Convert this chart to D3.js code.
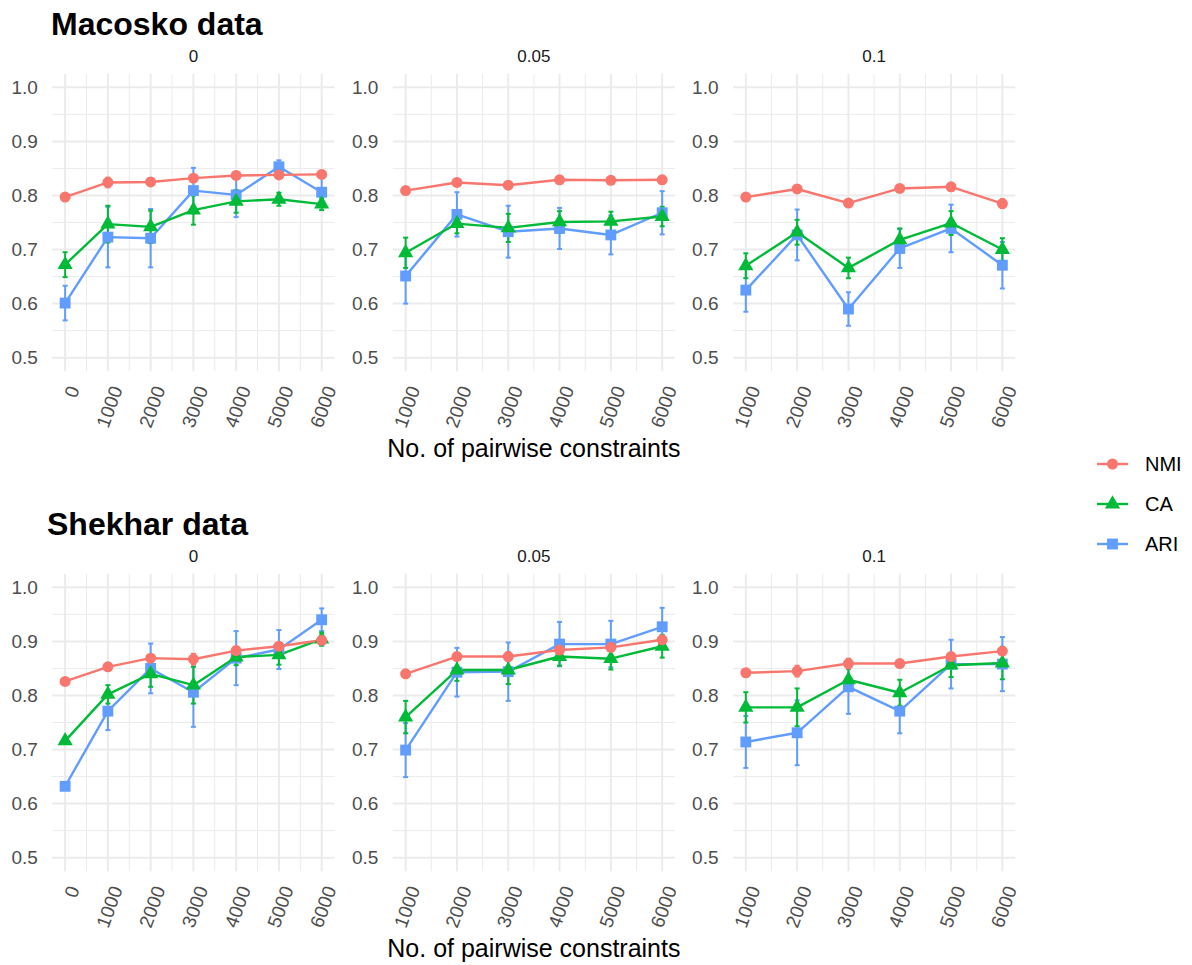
<!DOCTYPE html>
<html>
<head>
<meta charset="utf-8">
<script src="https://cdn.jsdelivr.net/npm/d3@7"></script>
<style>
  body { margin: 0; background: #ffffff; }
  svg { display: block; font-family: "Liberation Sans", Arial, Helvetica, sans-serif; }
</style>
</head>
<body>
<svg id="chart" width="1192" height="965"></svg>
<script>
// ---- data -------------------------------------------------------------
const datasets = ["Macosko data", "Shekhar data"];
const noiseLevels = ["0", "0.05", "0.1"];
const metrics = ["NMI", "CA", "ARI"];
const metricColors = ["#F8766D", "#00BA38", "#619CFF"];

const constraintsClean = [0, 1000, 2000, 3000, 4000, 5000, 6000];
const constraintsNoisy = [1000, 2000, 3000, 4000, 5000, 6000];
const yTicks = [0.5, 0.6, 0.7, 0.8, 0.9, 1.0];
const yTickLabels = ["0.5", "0.6", "0.7", "0.8", "0.9", "1.0"];

// mean score per noise level (rows: 0, 0.05, 0.1)
const macoskoNMI = [
  [0.797, 0.824, 0.825, 0.832, 0.837, 0.838, 0.839],
  [0.809, 0.824, 0.819, 0.829, 0.828, 0.829],
  [0.797, 0.812, 0.786, 0.813, 0.816, 0.785]
];
const macoskoCA = [
  [0.672, 0.747, 0.742, 0.773, 0.789, 0.793, 0.784],
  [0.694, 0.748, 0.740, 0.751, 0.752, 0.761],
  [0.670, 0.732, 0.666, 0.718, 0.749, 0.700]
];
const macoskoARI = [
  [0.601, 0.723, 0.721, 0.809, 0.801, 0.853, 0.806],
  [0.651, 0.765, 0.733, 0.739, 0.727, 0.768],
  [0.625, 0.727, 0.590, 0.702, 0.739, 0.671]
];
const shekharNMI = [
  [0.826, 0.853, 0.869, 0.867, 0.883, 0.891, 0.902],
  [0.840, 0.872, 0.872, 0.884, 0.889, 0.903],
  [0.842, 0.845, 0.859, 0.859, 0.872, 0.882]
];
const shekharCA = [
  [0.716, 0.802, 0.840, 0.819, 0.871, 0.875, 0.904],
  [0.760, 0.847, 0.847, 0.872, 0.868, 0.891],
  [0.778, 0.778, 0.829, 0.805, 0.856, 0.860]
];
const shekharARI = [
  [0.632, 0.771, 0.850, 0.806, 0.869, 0.885, 0.940],
  [0.699, 0.843, 0.844, 0.895, 0.895, 0.927],
  [0.714, 0.731, 0.816, 0.771, 0.858, 0.858]
];

// standard deviation per noise level
const macoskoNMIsd = [
  [0.003, 0.009, 0.007, 0.005, 0.003, 0.003, 0.003],
  [0.005, 0.004, 0.006, 0.004, 0.003, 0.003],
  [0.004, 0.006, 0.004, 0.004, 0.007, 0.008]
];
const macoskoCAsd = [
  [0.023, 0.034, 0.030, 0.027, 0.021, 0.012, 0.011],
  [0.028, 0.018, 0.026, 0.020, 0.018, 0.018],
  [0.023, 0.023, 0.019, 0.021, 0.022, 0.021]
];
const macoskoARIsd = [
  [0.032, 0.056, 0.054, 0.042, 0.041, 0.012, 0.027],
  [0.051, 0.041, 0.048, 0.038, 0.036, 0.040],
  [0.040, 0.047, 0.031, 0.036, 0.044, 0.043]
];
const shekharNMIsd = [
  [0.002, 0.004, 0.006, 0.010, 0.007, 0.005, 0.003],
  [0.006, 0.005, 0.008, 0.005, 0.005, 0.005],
  [0.007, 0.010, 0.009, 0.004, 0.006, 0.006]
];
const shekharCAsd = [
  [0.002, 0.017, 0.024, 0.034, 0.015, 0.018, 0.012],
  [0.030, 0.020, 0.026, 0.017, 0.020, 0.021],
  [0.028, 0.035, 0.020, 0.024, 0.022, 0.030]
];
const shekharARIsd = [
  [0.003, 0.035, 0.046, 0.064, 0.050, 0.036, 0.021],
  [0.050, 0.045, 0.054, 0.041, 0.043, 0.035],
  [0.048, 0.060, 0.050, 0.041, 0.045, 0.050]
];

const means = [[macoskoNMI, macoskoCA, macoskoARI], [shekharNMI, shekharCA, shekharARI]];
const sds = [[macoskoNMIsd, macoskoCAsd, macoskoARIsd], [shekharNMIsd, shekharCAsd, shekharARIsd]];

// ---- layout -----------------------------------------------------------
const rowHeight = 500;
const panelLefts = [52.3, 392.8, 733.0];
const panelWidth = 282.2;
const panelTop = 73.8, panelBottom = 371.2;
const titleX = [51, 47];

const svg = d3.select("#chart");
const symbolTypes = [d3.symbolCircle, d3.symbolTriangle, d3.symbolSquare];
const symbolSizes = [95, 100, 118];
const drawOrder = [2, 1, 0]; // ARI below CA below NMI

function midpoints(arr) {
  const out = [];
  for (let i = 0; i < arr.length - 1; i++) out.push((arr[i] + arr[i + 1]) / 2);
  return out;
}

datasets.forEach((name, r) => {
  const oy = r * rowHeight;
  const g = svg.append("g");

  g.append("text")
    .attr("x", titleX[r]).attr("y", 34.5 + oy)
    .attr("font-size", 32).attr("font-weight", "bold").attr("fill", "#000")
    .text(name);

  const y = d3.scaleLinear().domain([0.475, 1.025]).range([panelBottom + oy, panelTop + oy]);

  noiseLevels.forEach((lvl, p) => {
    const xs = p === 0 ? constraintsClean : constraintsNoisy;
    const span = xs[xs.length - 1] - xs[0];
    const x = d3.scaleLinear()
      .domain([xs[0] - span * 0.05, xs[xs.length - 1] + span * 0.05])
      .range([panelLefts[p], panelLefts[p] + panelWidth]);
    const pg = g.append("g");
    const x0 = panelLefts[p], x1 = panelLefts[p] + panelWidth;

    // grid: minor then major
    pg.selectAll(".hminor").data(midpoints(yTicks)).join("line")
      .attr("x1", x0).attr("x2", x1).attr("y1", d => y(d)).attr("y2", d => y(d))
      .attr("stroke", "#EBEBEB").attr("stroke-width", 1);
    pg.selectAll(".vminor").data(midpoints(xs)).join("line")
      .attr("x1", d => x(d)).attr("x2", d => x(d)).attr("y1", panelTop + oy).attr("y2", panelBottom + oy)
      .attr("stroke", "#EBEBEB").attr("stroke-width", 1);
    pg.selectAll(".hmajor").data(yTicks).join("line")
      .attr("x1", x0).attr("x2", x1).attr("y1", d => y(d)).attr("y2", d => y(d))
      .attr("stroke", "#EBEBEB").attr("stroke-width", 2);
    pg.selectAll(".vmajor").data(xs).join("line")
      .attr("x1", d => x(d)).attr("x2", d => x(d)).attr("y1", panelTop + oy).attr("y2", panelBottom + oy)
      .attr("stroke", "#EBEBEB").attr("stroke-width", 2);

    // y tick labels
    pg.selectAll(".ylab").data(yTicks).join("text")
      .attr("x", x0 - 14.5).attr("y", d => y(d)).attr("dy", "0.35em")
      .attr("text-anchor", "end").attr("font-size", 19).attr("fill", "#4D4D4D")
      .text((d, i) => yTickLabels[i]);

    // x tick labels, rotated
    pg.selectAll(".xlab").data(xs).join("text")
      .attr("transform", d => `translate(${x(d) + 2},${384.5 + oy}) rotate(-70)`)
      .attr("dy", "0.72em")
      .attr("text-anchor", "end").attr("font-size", 19).attr("fill", "#4D4D4D")
      .text(d => String(d));

    // strip label
    pg.append("text")
      .attr("x", (x0 + x1) / 2).attr("y", 61.7 + oy)
      .attr("text-anchor", "middle").attr("font-size", 17).attr("fill", "#1A1A1A")
      .text(lvl);

    const series = drawOrder.map(m => ({
      m,
      pts: xs.map((c, i) => ({ c, v: means[r][m][p][i], s: sds[r][m][p][i] }))
    }));

    const line = d3.line().x(d => x(d.c)).y(d => y(d.v));
    series.forEach(sr => {
      pg.append("path").datum(sr.pts)
        .attr("d", line).attr("fill", "none")
        .attr("stroke", metricColors[sr.m]).attr("stroke-width", 2.4)
        .attr("stroke-linejoin", "round");
    });

    series.forEach(sr => {
      const eg = pg.append("g").attr("stroke", metricColors[sr.m]).attr("stroke-width", 2);
      sr.pts.forEach(d => {
        const xc = x(d.c), yt = y(d.v + d.s), yb = y(d.v - d.s);
        eg.append("line").attr("x1", xc).attr("x2", xc).attr("y1", yt).attr("y2", yb);
        eg.append("line").attr("x1", xc - 2.5).attr("x2", xc + 2.5).attr("y1", yt).attr("y2", yt);
        eg.append("line").attr("x1", xc - 2.5).attr("x2", xc + 2.5).attr("y1", yb).attr("y2", yb);
      });
    });

    series.forEach(sr => {
      pg.selectAll(null).data(sr.pts).join("path")
        .attr("transform", d => `translate(${x(d.c)},${y(d.v)})`)
        .attr("d", d3.symbol().type(symbolTypes[sr.m]).size(symbolSizes[sr.m]))
        .attr("fill", metricColors[sr.m]);
    });
  });

  // x axis title
  g.append("text")
    .attr("x", (panelLefts[1] + panelLefts[1] + panelWidth) / 2).attr("y", 457 + oy)
    .attr("text-anchor", "middle").attr("font-size", 25).attr("fill", "#000")
    .text("No. of pairwise constraints");
});

// ---- legend -----------------------------------------------------------
const legendRows = [464, 504, 544];
const lg = svg.append("g");
metrics.forEach((m, i) => {
  const ly = legendRows[i];
  lg.append("line").attr("x1", 1097).attr("x2", 1128).attr("y1", ly).attr("y2", ly)
    .attr("stroke", metricColors[i]).attr("stroke-width", 2.4);
  lg.append("path").attr("transform", `translate(1112.5,${ly})`)
    .attr("d", d3.symbol().type(symbolTypes[i]).size(symbolSizes[i]))
    .attr("fill", metricColors[i]);
  lg.append("text").attr("x", 1145).attr("y", ly).attr("dy", "0.36em")
    .attr("font-size", 20).attr("fill", "#000").text(m);
});
</script>
</body>
</html>
